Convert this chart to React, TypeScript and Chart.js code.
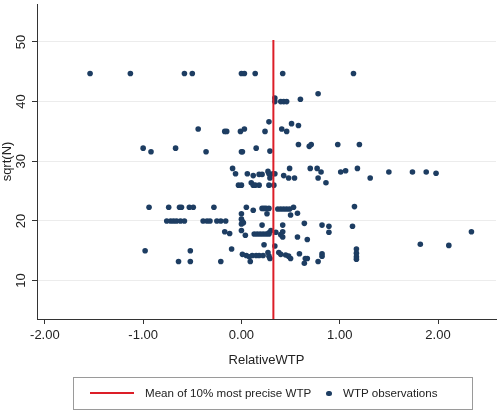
import React, { useEffect, useRef } from "react";
import { Chart, registerables } from "chart.js";

Chart.register(...registerables);

// ---- data ----
const wtpX: number[] = [
  -1.54, -1.13, -0.58, -0.5, 0.0, 0.03, 0.14, 0.42, 1.14,
  0.34, 0.34, 0.4, 0.43, 0.46, 0.6, 0.78,
  -0.44, -0.17, -0.15, -0.01, 0.03, 0.24, 0.28, 0.41, 0.46, 0.51, 0.58,
  -1.0, -0.92, -0.67, -0.36, 0.0, 0.01, 0.15, 0.29, 0.58, 0.69, 0.71, 0.98, 1.2,
  -0.09, -0.06, 0.06, 0.12, 0.18, 0.21, 0.27, 0.28, 0.29, 0.32, 0.34, 0.43, 0.49, 0.48, 0.54, 0.7, 0.77, 0.81, 0.78, 0.86, 1.01, 1.06, 1.18, 1.31, 1.5, 1.74, 1.88, 1.98,
  -0.03, 0.0, 0.1, 0.12, 0.14, 0.18, 0.28, 0.33,
  -0.94, -0.74, -0.63, -0.61, -0.53, -0.49, -0.28, 0.05, 0.12, 0.21, 0.23, 0.25, 0.28, 0.26, 0.0, 0.37, 0.4, 0.43, 0.46, 0.49, 0.53, 0.5, 0.57, 1.15,
  -0.76, -0.72, -0.69, -0.66, -0.62, -0.58, -0.39, -0.35, -0.32, -0.25, -0.21, -0.16, 0.0, 0.01, 0.0, 0.02, 0.21, 0.42, 0.64, 0.82, 0.89, 0.89, 1.13,
  -0.17, -0.12, 0.0, 0.04, 0.13, 0.16, 0.19, 0.22, 0.25, 0.28, 0.3, 0.35, 0.4, 0.42, 0.57, 0.67, 2.34, 0.28, 0.42,
  -0.98, -0.52, -0.1, 0.23, 0.34, 1.17, 1.82, 2.11,
  -0.64, -0.52, -0.21, 0.01, 0.05, 0.08, 0.11, 0.15, 0.18, 0.22, 0.09, 0.27, 0.28, 0.29, 0.38, 0.4, 0.45, 0.48, 0.5, 0.59, 0.65, 0.67, 0.64, 0.78, 0.82, 0.82, 1.17, 1.17, 1.17,
];

const sqrtN: number[] = [
  44.7, 44.7, 44.7, 44.7, 44.7, 44.7, 44.7, 44.7, 44.7,
  40.6, 40.0, 40.0, 40.0, 40.0, 40.4, 41.3,
  35.4, 35.0, 35.0, 35.0, 35.4, 35.0, 36.6, 35.4, 35.0, 36.3, 36.0,
  32.2, 31.6, 32.2, 31.6, 31.6, 31.6, 32.2, 31.7, 32.8, 32.5, 32.8, 32.8, 32.8,
  28.8, 27.9, 27.9, 27.6, 27.8, 27.8, 28.3, 27.9, 27.2, 27.9, 27.9, 27.6, 28.8, 27.2, 27.2, 28.8, 28.8, 28.2, 27.2, 26.4, 28.2, 28.4, 28.8, 27.2, 28.2, 28.2, 28.2, 28.0,
  26.0, 26.0, 26.4, 26.0, 26.0, 26.0, 26.0, 26.0,
  22.3, 22.3, 22.3, 22.3, 22.3, 22.3, 22.3, 22.3, 21.8, 22.1, 22.1, 22.1, 22.1, 21.2, 21.2, 22.0, 22.0, 22.0, 22.0, 22.0, 22.3, 21.0, 21.3, 22.4,
  20.0, 20.0, 20.0, 20.0, 20.0, 20.0, 20.0, 20.0, 20.0, 20.0, 20.0, 20.0, 20.3, 19.9, 19.5, 19.7, 19.3, 19.3, 19.6, 19.3, 19.1, 18.1, 19.1,
  18.2, 17.9, 18.4, 17.6, 17.8, 17.8, 17.8, 17.8, 17.8, 17.8, 18.4, 18.1, 17.7, 17.3, 17.3, 16.9, 18.2, 18.0, 18.2,
  15.0, 15.0, 15.3, 16.0, 15.8, 15.3, 16.1, 15.9,
  13.2, 13.2, 13.2, 14.4, 14.2, 14.0, 14.2, 14.2, 14.2, 14.2, 13.2, 14.7, 14.1, 13.7, 14.7, 14.4, 14.3, 14.1, 13.7, 14.5, 13.7, 13.7, 12.9, 13.2, 14.5, 14.1, 14.6, 14.0, 13.6,
];

const meanWTP = 0.325;
const meanLineTop = 50.3;
const xTickValues: number[] = [-2, -1, 0, 1, 2];
const yTickValues: number[] = [10, 20, 30, 40, 50];
const seriesLabels: string[] = ["Mean of 10% most precise WTP", "WTP observations"];
const xTitle = "RelativeWTP";
const yTitle = "sqrt(N)";

const X_MIN = -2.08;
const X_MAX = 2.59;
const Y_MIN = 3.57;
const Y_MAX = 56.35;

const RED = "#dc1e28";
const NAVY = "#1d3d62";
const FONT = "'Liberation Sans', Arial, sans-serif";
const TEXT = "#222222";

export default function App() {
  const ref = useRef<HTMLCanvasElement | null>(null);

  useEffect(() => {
    if (!ref.current) return;
    const points = wtpX.map((x, i) => ({ x, y: sqrtN[i] }));
    const meanLine = [
      { x: meanWTP, y: Y_MIN },
      { x: meanWTP, y: meanLineTop },
    ];
    const chart = new Chart(ref.current, {
      type: "scatter",
      data: {
        datasets: [
          {
            label: seriesLabels[0],
            data: meanLine,
            showLine: true,
            borderColor: RED,
            backgroundColor: RED,
            borderWidth: 2,
            pointRadius: 0,
          },
          {
            label: seriesLabels[1],
            data: points,
            backgroundColor: NAVY,
            borderWidth: 0,
            pointRadius: 2.8,
          },
        ],
      },
      options: {
        animation: false,
        responsive: false,
        layout: { padding: { top: 3, right: 3, bottom: 44.2, left: 0 } },
        plugins: { legend: { display: false }, tooltip: { enabled: false } },
        scales: {
          x: {
            type: "linear",
            min: X_MIN,
            max: X_MAX,
            afterBuildTicks: (s: any) => {
              s.ticks = xTickValues.map((v) => ({ value: v }));
            },
            afterFit: (s: any) => {
              s.height = 48.8;
              s.paddingLeft = 0;
              s.paddingRight = 0;
            },
            ticks: {
              callback: (v: any) => Number(v).toFixed(2),
              font: { family: FONT, size: 13 },
              color: TEXT,
              padding: 4,
              maxRotation: 0,
              autoSkip: false,
            },
            grid: {
              drawOnChartArea: false,
              drawTicks: true,
              tickLength: 5,
              tickColor: "#333333",
            },
            border: { color: "#333333", width: 1 },
            title: {
              display: true,
              text: xTitle,
              font: { family: FONT, size: 13 },
              color: TEXT,
              padding: 0,
            },
          },
          y: {
            type: "linear",
            min: Y_MIN,
            max: Y_MAX,
            afterBuildTicks: (s: any) => {
              s.ticks = yTickValues.map((v) => ({ value: v }));
            },
            afterFit: (s: any) => {
              s.width = 37;
              s.paddingTop = 0;
              s.paddingBottom = 0;
            },
            ticks: {
              font: { family: FONT, size: 13 },
              color: TEXT,
              padding: 3,
              minRotation: 90,
              maxRotation: 90,
              crossAlign: "center",
              autoSkip: false,
            },
            grid: {
              color: "#ececec",
              lineWidth: 1,
              drawTicks: true,
              tickLength: 5,
              tickColor: "#333333",
            },
            border: { color: "#333333", width: 1 },
            title: {
              display: true,
              text: yTitle,
              font: { family: FONT, size: 13 },
              color: TEXT,
              padding: 0,
            },
          },
        },
      },
    } as any);
    return () => chart.destroy();
  }, []);

  return (
    <div style={{ position: "absolute", left: 0, top: 0, width: 500, height: 412, background: "#fff" }}>
      <canvas ref={ref} width={500} height={412} style={{ display: "block", width: 500, height: 412 }} />
      <div
        style={{
          position: "absolute",
          left: 73,
          top: 377,
          width: 398,
          height: 31,
          border: "1px solid #9a9a9a",
          boxSizing: "content-box",
          fontFamily: FONT,
          fontSize: 11.6,
          color: TEXT,
        }}
      >
        <div style={{ position: "absolute", left: 16, top: 14, width: 44, height: 2, background: RED }} />
        <span style={{ position: "absolute", left: 71, top: 8, whiteSpace: "nowrap", lineHeight: "14px" }}>{seriesLabels[0]}</span>
        <div style={{ position: "absolute", left: 252, top: 12.5, width: 5.5, height: 5.5, borderRadius: "50%", background: NAVY }} />
        <span style={{ position: "absolute", left: 269, top: 8, whiteSpace: "nowrap", lineHeight: "14px" }}>{seriesLabels[1]}</span>
      </div>
    </div>
  );
}
